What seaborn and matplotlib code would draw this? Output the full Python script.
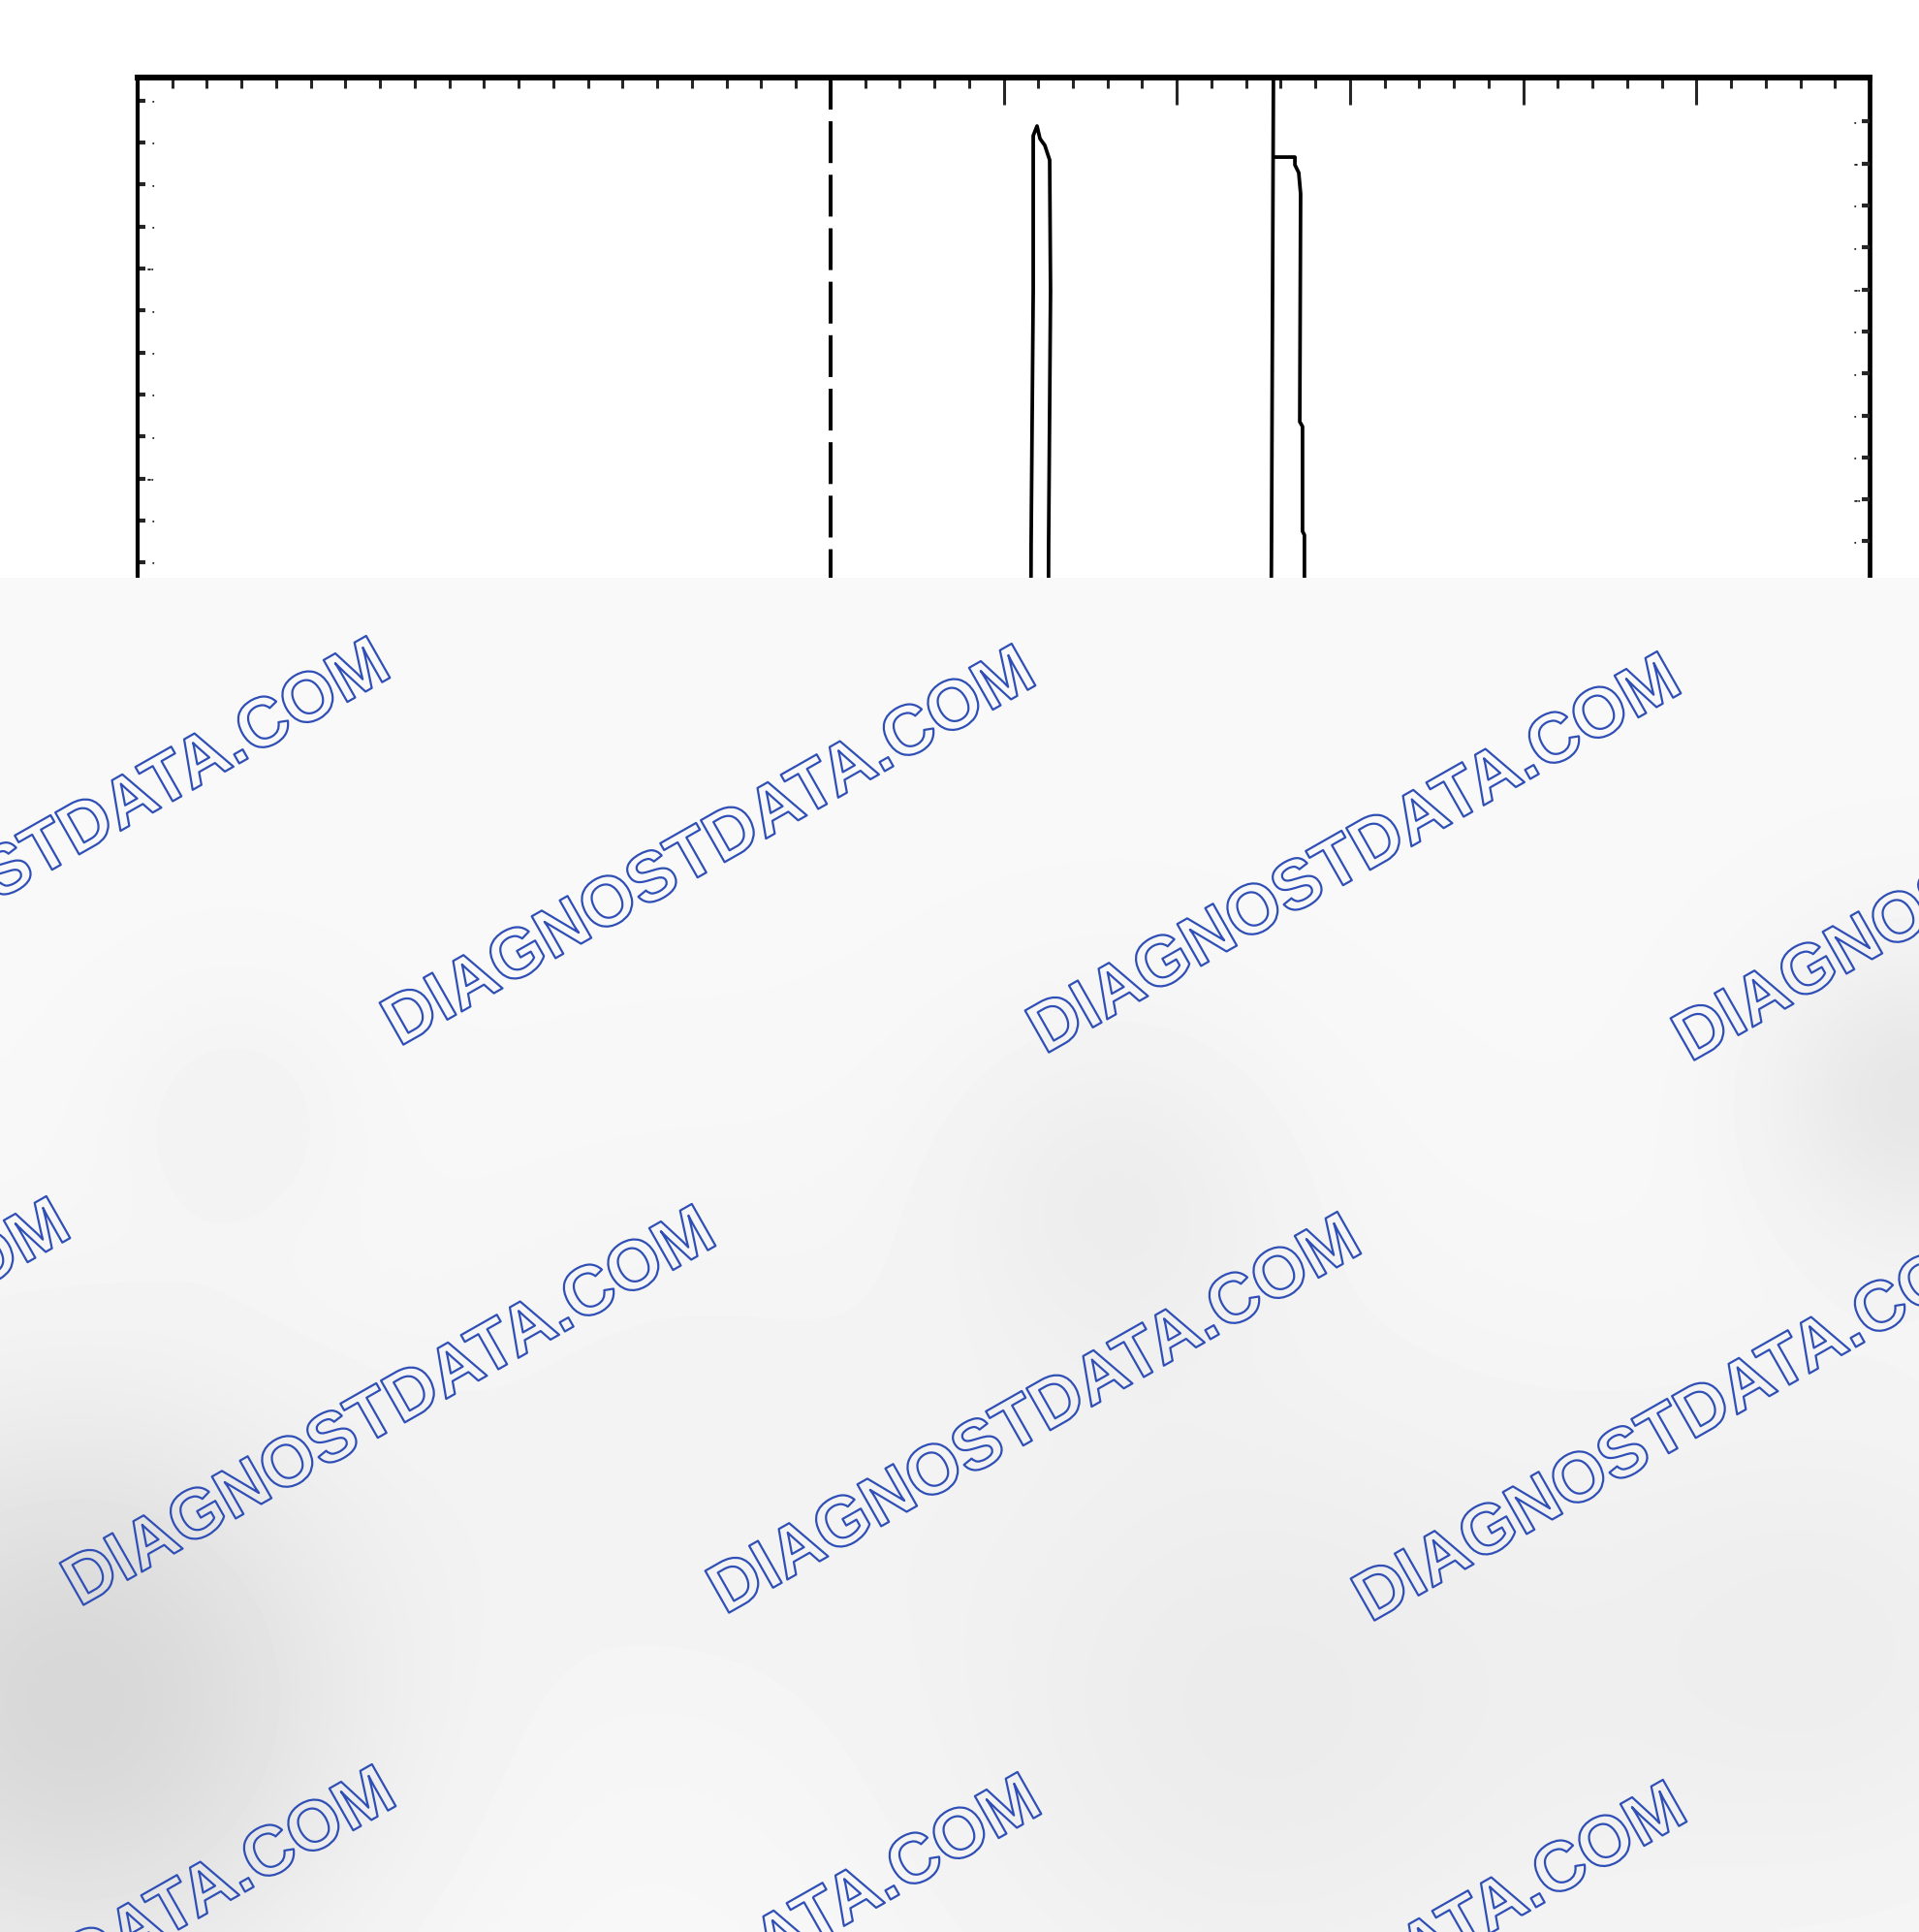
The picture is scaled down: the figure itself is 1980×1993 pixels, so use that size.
import numpy as np
import pandas as pd
import matplotlib
matplotlib.use("Agg")
import matplotlib.pyplot as plt
import matplotlib.patheffects as pe
import seaborn as sns

# ---------------- data (screen divisions) ----------------
trace1_x = [5.131, 5.159, 5.171, 5.171, 5.193, 5.210, 5.238, 5.266, 5.271, 5.260, 5.238]
trace1_y = [-4.09, 1.693, 2.894, 3.633, 3.679, 3.619, 3.587, 3.517, 2.894, 1.693, -4.09]

trace2a_x = [6.508, 6.547, 6.558]
trace2a_y = [-4.09, 1.693, 3.91]

trace2b_x = [6.558, 6.682, 6.682, 6.704, 6.715, 6.710, 6.726, 6.726, 6.737, 6.737, 6.705]
trace2b_y = [3.531, 3.531, 3.494, 3.457, 3.356, 2.270, 2.247, 1.748, 1.730, 1.500, -4.09]

marker_line_x = 4.0          # dashed vertical marker
x_major_long = [5, 6, 7, 8, 9]
x_minor = [round(0.2 * i, 1) for i in range(0, 51)]
left_ticks = [3.8, 3.6, 3.4, 3.2, 3.0, 2.8, 2.6, 2.4, 2.2, 2.0, 1.8, 1.6, 1.4]
left_labels = ["▪", "▪", "▪", "▪", "▪▪▪", "▪", "▪", "▪", "▪", "▪▪▪", "▪", "▪", "▪"]
right_ticks = [3.7, 3.5, 3.3, 3.1, 2.9, 2.7, 2.5, 2.3, 2.1, 1.9, 1.7, 1.5]
right_labels = ["▪", "▪▪", "▪", "▪", "▪▪▪", "▪", "▪", "▪", "▪", "▪▪▪", "▪", "▪"]
watermark = "DIAGNOSTDATA.COM"

df = pd.concat([
    pd.DataFrame({"x": trace1_x, "y": trace1_y, "seg": "t1"}),
    pd.DataFrame({"x": trace2a_x, "y": trace2a_y, "seg": "t2a"}),
    pd.DataFrame({"x": trace2b_x, "y": trace2b_y, "seg": "t2b"}),
], ignore_index=True)

# ---------------- figure ----------------
sns.set_style("white")
plt.rcParams["font.family"] = ["Liberation Sans", "DejaVu Sans"]

W, H = 1980, 1993
fig = plt.figure(figsize=(W / 100, H / 100), dpi=100)
fig.patch.set_facecolor("white")

px_left, px_right, px_top, px_bottom = 142, 1929, 80, 1812
ax = fig.add_axes([px_left / W, 1 - px_bottom / H, (px_right - px_left) / W, (px_bottom - px_top) / H])
ax.set_facecolor("white")

sns.lineplot(data=df, x="x", y="y", units="seg", estimator=None, sort=False,
             color="black", linewidth=2.7, ax=ax, legend=False)
ax.plot([marker_line_x, marker_line_x], [3.91, -4.09], color="black", lw=2.9,
        linestyle=(2.5, (10.7, 3.0)), solid_capstyle="butt", dash_capstyle="butt")

ax.set_xlim(0, 10)
ax.set_ylim(-4.09, 3.91)
ax.set_xlabel("")
ax.set_ylabel("")

for side, lw in (("top", 4.3), ("left", 3.0), ("right", 3.4), ("bottom", 3.0)):
    ax.spines[side].set_visible(True)
    ax.spines[side].set_linewidth(lw)
    ax.spines[side].set_color("black")

ax.xaxis.tick_top()
ax.set_xticks(x_major_long)
ax.set_xticks(x_minor, minor=True)
ax.tick_params(axis="x", which="major", direction="in", length=20, width=2.2,
               labeltop=False, labelbottom=False, top=True, bottom=False)
ax.tick_params(axis="x", which="minor", direction="in", length=8, width=2.2,
               top=True, bottom=False)

ax.set_yticks(left_ticks)
ax.set_yticklabels(left_labels)
ax.tick_params(axis="y", which="major", direction="in", length=6, width=3,
               pad=-12, labelsize=5, left=True, right=False)

ax2 = ax.twinx()
ax2.set_ylim(ax.get_ylim())
for s in ax2.spines.values():
    s.set_visible(False)
ax2.set_yticks(right_ticks)
ax2.set_yticklabels(right_labels)
ax2.tick_params(axis="y", which="major", direction="in", length=6, width=3,
                pad=-12, labelsize=5, right=True, left=False)
ax2.grid(False)
ax.grid(False)

# ---------------- watermark overlay (lower part of the picture) ----------------
ov_top = 596
ov = fig.add_axes([0, 0, 1, (H - ov_top) / H], zorder=10)
ov.set_xlim(0, W)
ov.set_ylim(H, ov_top)
ov.axis("off")

gx = np.linspace(0, W, 400)
gy = np.linspace(ov_top, H, 300)
GX, GY = np.meshgrid(gx, gy)
shade = np.full_like(GX, 0.974)
blobs = [(76, 1755, 210, 0.13), (240, 1150, 90, 0.022), (1150, 1230, 130, 0.04),
         (1980, 1130, 110, 0.07), (1300, 1760, 260, 0.05), (1900, 1700, 200, 0.04),
         (700, 1500, 200, 0.02)]
for bx, by, bs, bd in blobs:
    shade -= bd * np.exp(-((GX - bx) ** 2 + (GY - by) ** 2) / (2 * bs ** 2))
ov.imshow(shade, cmap="gray", vmin=0, vmax=1, extent=(0, W, H, ov_top),
          aspect="auto", interpolation="bilinear", zorder=0)

base_x, base_y = 412, 1080
for j in range(-1, 3):
    for i in range(-2, 4):
        sx = base_x + i * 666 + j * (-330)
        sy = base_y + i * 8 + j * 578
        ov.text(sx, sy, watermark, rotation=29.6, rotation_mode="anchor",
                ha="left", va="baseline", fontsize=52, fontweight="bold",
                family=["Liberation Sans", "DejaVu Sans"], color=(1, 1, 1, 0),
                path_effects=[pe.Stroke(linewidth=1.6, foreground="#2f4fb6")],
                clip_on=True, zorder=2)

fig.savefig("out.png", dpi=100, facecolor="white")
